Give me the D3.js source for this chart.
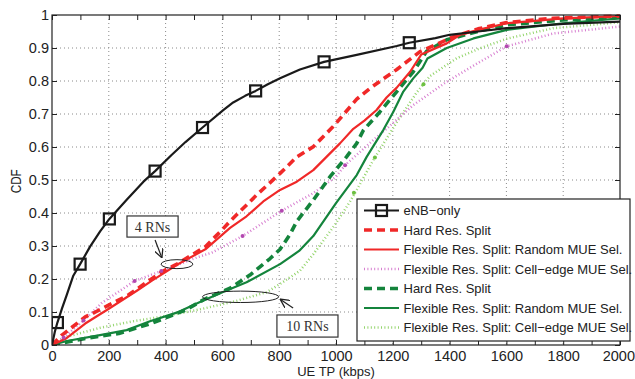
<!DOCTYPE html>
<html>
<head>
<meta charset="utf-8">
<script src="https://cdn.jsdelivr.net/npm/d3@7"></script>
<style>
  html, body { margin: 0; padding: 0; background: #fff; }
  svg { display: block; }
  text { font-family: "Liberation Sans", Arial, sans-serif; }
</style>
</head>
<body>
<svg id="chart" width="635" height="379"></svg>
<script>
// ---------------- data (UE throughput in kbps, CDF) ----------------
const xTickLabels = [0, 200, 400, 600, 800, 1000, 1200, 1400, 1600, 1800, 2000];
const yTickLabels = [0, 0.1, 0.2, 0.3, 0.4, 0.5, 0.6, 0.7, 0.8, 0.9, 1];

const enbOnly = [[0,0],[10,0.04],[19,0.068],[35,0.11],[52,0.152],[75,0.21],[99,0.245],[134,0.298],[170,0.345],[202,0.382],[263,0.44],[322,0.495],[363,0.527],[420,0.575],[470,0.615],[530,0.659],[603,0.712],[638,0.735],[680,0.755],[717,0.77],[760,0.79],[803,0.808],[873,0.835],[958,0.858],[1073,0.879],[1214,0.906],[1258,0.916],[1350,0.93],[1400,0.94],[1500,0.95],[1600,0.96],[1800,0.973],[2000,0.98]];
const enbMarkers = [[19,0.068],[99,0.245],[202,0.382],[363,0.527],[530,0.659],[717,0.77],[958,0.858],[1258,0.916]];

const hard4 = [[0,0],[35,0.03],[117,0.085],[153,0.10],[270,0.152],[387,0.222],[440,0.245],[540,0.298],[600,0.35],[627,0.375],[721,0.455],[803,0.52],[862,0.57],[920,0.601],[990,0.662],[1073,0.745],[1120,0.778],[1214,0.835],[1296,0.889],[1413,0.934],[1500,0.958],[1601,0.977],[1765,0.99],[2000,0.997]];
const flexRand4 = [[0,0],[50,0.02],[117,0.065],[200,0.11],[300,0.165],[352,0.195],[440,0.243],[540,0.29],[627,0.355],[685,0.39],[744,0.435],[803,0.47],[862,0.495],[920,0.53],[1014,0.611],[1061,0.655],[1100,0.68],[1143,0.712],[1178,0.75],[1214,0.78],[1261,0.828],[1300,0.88],[1390,0.914],[1437,0.94],[1500,0.955],[1601,0.975],[1800,0.99],[2000,0.997]];
const flexEdge4 = [[0,0],[41,0.023],[111,0.074],[176,0.128],[291,0.194],[385,0.224],[509,0.265],[563,0.28],[671,0.33],[809,0.407],[920,0.46],[1000,0.51],[1032,0.545],[1073,0.576],[1131,0.621],[1184,0.66],[1272,0.727],[1390,0.798],[1507,0.858],[1601,0.905],[1765,0.944],[2000,0.965]];
const flexEdge4Dots = [[41,0.023],[111,0.074],[291,0.194],[385,0.224],[671,0.33],[809,0.407],[1032,0.545],[1601,0.905]];

const hard10 = [[0,0],[117,0.02],[235,0.035],[352,0.066],[470,0.106],[540,0.14],[627,0.172],[697,0.212],[768,0.262],[803,0.29],[838,0.335],[862,0.375],[920,0.439],[979,0.51],[1037,0.57],[1073,0.611],[1096,0.65],[1155,0.707],[1214,0.768],[1272,0.828],[1319,0.89],[1390,0.925],[1507,0.952],[1600,0.97],[1800,0.985],[2000,0.993]];
const flexRand10 = [[0,0],[52,0.012],[169,0.03],[263,0.045],[345,0.072],[439,0.098],[521,0.13],[600,0.16],[685,0.19],[803,0.245],[870,0.285],[920,0.33],[1000,0.43],[1073,0.515],[1108,0.57],[1167,0.652],[1202,0.707],[1237,0.768],[1272,0.808],[1305,0.84],[1322,0.868],[1390,0.9],[1484,0.929],[1601,0.955],[1800,0.975],[2000,0.99]];
const flexEdge10 = [[0,0],[52,0.025],[169,0.052],[286,0.072],[404,0.088],[521,0.108],[638,0.131],[756,0.16],[803,0.185],[873,0.225],[920,0.275],[1000,0.369],[1049,0.434],[1073,0.47],[1131,0.56],[1178,0.625],[1214,0.675],[1284,0.765],[1331,0.815],[1425,0.869],[1507,0.899],[1601,0.928],[1765,0.96],[2000,0.978]];
const flexEdge10Dots = [[1063,0.461],[1137,0.568],[1308,0.79]];

const legendLabels = ["eNB\u2212only", "Hard Res. Split", "Flexible Res. Split: Random MUE Sel.", "Flexible Res. Split: Cell\u2212edge MUE Sel.", "Hard Res. Split", "Flexible Res. Split: Random MUE Sel.", "Flexible Res. Split: Cell\u2212edge MUE Sel."];

// annotation anchors in data units
const note4 = { label: "4 RNs", box: [264, 0.391, 444, 0.327], arrow: [363, 0.318, 387, 0.264], ellipse: [440, 0.245, 56, 0.0136] };
const note10 = { label: "10 RNs", box: [792, 0.091, 1007, 0.024], arrow: [849, 0.112, 803, 0.139], ellipse: [664, 0.146, 134, 0.0173] };

// ---------------- drawing ----------------
const svg = d3.select("#chart");
const L = 52, R = 620, T = 15, B = 345;
const x = d3.scaleLinear().domain([0, 2000]).range([L, R]);
const y = d3.scaleLinear().domain([0, 1]).range([B, T]);

const defs = svg.append("defs");
defs.append("clipPath").attr("id", "plotclip").append("rect")
  .attr("x", L).attr("y", T - 2).attr("width", R - L).attr("height", B - T + 2);
defs.append("marker").attr("id", "arrowhead").attr("viewBox", "0 0 10 10")
  .attr("refX", 10).attr("refY", 5).attr("markerWidth", 9).attr("markerHeight", 9)
  .attr("markerUnits", "userSpaceOnUse").attr("orient", "auto")
  .append("path").attr("d", "M0,0 L10,5 L0,10").attr("fill", "none").attr("stroke", "#222").attr("stroke-width", 1.4);

// grid
const grid = svg.append("g");
grid.selectAll(".gx").data(xTickLabels.slice(1, -1)).enter().append("line")
  .attr("x1", d => x(d)).attr("x2", d => x(d)).attr("y1", T).attr("y2", B)
  .attr("stroke", "#8a8a8a").attr("stroke-width", 1).attr("stroke-dasharray", "1,3");
grid.selectAll(".gy").data(yTickLabels.slice(1, -1)).enter().append("line")
  .attr("y1", d => y(d)).attr("y2", d => y(d)).attr("x1", L).attr("x2", R)
  .attr("stroke", "#8a8a8a").attr("stroke-width", 1).attr("stroke-dasharray", "1,3");

const line = d3.line().x(d => x(d[0])).y(d => y(d[1]));

const series = [
  { data: flexEdge10, color: "#94d46c", width: 2.5, dash: "1,2.4" },
  { data: flexEdge4, color: "#d77fd0", width: 2.5, dash: "1,2.4" },
  { data: flexRand10, color: "#14843c", width: 2.2, dash: null },
  { data: hard10, color: "#14843c", width: 3.6, dash: "8,5" },
  { data: flexRand4, color: "#f02828", width: 2.2, dash: null },
  { data: hard4, color: "#f02828", width: 3.6, dash: "8,5" },
  { data: enbOnly, color: "#1a1a1a", width: 2.2, dash: null }
];

const plot = svg.append("g").attr("clip-path", "url(#plotclip)");
series.forEach(s => {
  plot.append("path").datum(s.data)
    .attr("d", line).attr("fill", "none")
    .attr("stroke", s.color).attr("stroke-width", s.width)
    .attr("stroke-dasharray", s.dash).attr("stroke-linejoin", "round");
});
plot.selectAll(".mdot").data(flexEdge4Dots).enter().append("circle")
  .attr("cx", d => x(d[0])).attr("cy", d => y(d[1])).attr("r", 2).attr("fill", "#b348b0");
plot.selectAll(".gdot").data(flexEdge10Dots).enter().append("circle")
  .attr("cx", d => x(d[0])).attr("cy", d => y(d[1])).attr("r", 2).attr("fill", "#6cc040");
plot.selectAll(".sq").data(enbMarkers).enter().append("rect")
  .attr("x", d => x(d[0]) - 5.5).attr("y", d => y(d[1]) - 5.5)
  .attr("width", 11).attr("height", 11)
  .attr("fill", "none").attr("stroke", "#1a1a1a").attr("stroke-width", 2.2);

// annotations
[note4, note10].forEach(n => {
  const [ex, ey, erx, ery] = n.ellipse;
  svg.append("ellipse").attr("cx", x(ex)).attr("cy", y(ey))
    .attr("rx", x(ex + erx) - x(ex)).attr("ry", y(0) - y(ery))
    .attr("fill", "none").attr("stroke", "#222").attr("stroke-width", 1);
  const [ax1, ay1, ax2, ay2] = n.arrow;
  svg.append("line").attr("x1", x(ax1)).attr("y1", y(ay1)).attr("x2", x(ax2)).attr("y2", y(ay2))
    .attr("stroke", "#222").attr("stroke-width", 1.2).attr("marker-end", "url(#arrowhead)");
  const [bx1, by1, bx2, by2] = n.box;
  svg.append("rect").attr("x", x(bx1)).attr("y", y(by1))
    .attr("width", x(bx2) - x(bx1)).attr("height", y(by2) - y(by1))
    .attr("fill", "#fff").attr("stroke", "#333").attr("stroke-width", 1.2);
  svg.append("text").attr("x", (x(bx1) + x(bx2)) / 2).attr("y", (y(by1) + y(by2)) / 2)
    .attr("dy", "0.36em").attr("text-anchor", "middle")
    .style("font-family", "'Liberation Serif', 'Times New Roman', serif")
    .style("font-size", "14px").attr("fill", "#333").text(n.label);
});

// axes
const fs = "14.5px";
svg.append("g").attr("transform", `translate(0,${B})`)
  .call(d3.axisBottom(x).tickValues(xTickLabels).tickSizeInner(-5).tickSizeOuter(0).tickPadding(6).tickFormat(d3.format("d")))
  .selectAll(".tick text").attr("text-anchor", d => d === 2000 ? "end" : "middle").attr("dx", d => d === 2000 ? 14.5 : 0);
const xMinor = d3.range(100, 2000, 200);
svg.append("g").attr("transform", `translate(0,${B})`)
  .call(d3.axisBottom(x).tickValues(xMinor).tickSizeInner(-5).tickSizeOuter(0).tickFormat(""));
svg.append("g").attr("transform", `translate(0,${T})`)
  .call(d3.axisTop(x).tickValues(xTickLabels.concat(xMinor)).tickSizeInner(-5).tickSizeOuter(0).tickFormat(""));
svg.append("g").attr("transform", `translate(${L},0)`)
  .call(d3.axisLeft(y).tickValues(yTickLabels).tickSizeInner(-5).tickSizeOuter(0).tickPadding(3).tickFormat(d => d3.format("")(d)));
svg.append("g").attr("transform", `translate(${R},0)`)
  .call(d3.axisRight(y).tickValues(yTickLabels).tickSizeInner(-5).tickSizeOuter(0).tickFormat(""));
svg.selectAll(".domain").remove();
svg.selectAll(".tick line").attr("stroke", "#222");
svg.selectAll(".tick text").style("font-size", fs).style("font-family", "'Liberation Sans', Arial, sans-serif").attr("fill", "#222");

svg.append("rect").attr("x", L).attr("y", T).attr("width", R - L).attr("height", B - T)
  .attr("fill", "none").attr("stroke", "#222").attr("stroke-width", 1.2);

// axis labels
svg.append("text").attr("x", (L + R) / 2).attr("y", 376.3).attr("text-anchor", "middle")
  .style("font-size", "13px").attr("fill", "#222").text("UE TP (kbps)");
svg.append("text").attr("transform", "translate(20.5,181.3) rotate(-90)").attr("text-anchor", "middle")
  .style("font-size", "14px").attr("textLength", 24).attr("lengthAdjust", "spacingAndGlyphs")
  .attr("fill", "#222").text("CDF");

// legend
const lg = svg.append("g");
lg.append("rect").attr("x", 357).attr("y", 199).attr("width", 273).attr("height", 142)
  .attr("fill", "#fff").attr("stroke", "#222").attr("stroke-width", 1.2);
const legendStyles = [series[6], series[5], series[4], series[1], series[3], series[2], series[0]];
legendLabels.forEach((lab, i) => {
  const yy = 210.5 + i * 19.5;
  const s = legendStyles[i];
  lg.append("line").attr("x1", 364).attr("x2", 399).attr("y1", yy).attr("y2", yy)
    .attr("stroke", s.color).attr("stroke-width", s.width).attr("stroke-dasharray", s.dash);
  if (i === 0) {
    lg.append("rect").attr("x", 381.5 - 5.5).attr("y", yy - 5.5).attr("width", 11).attr("height", 11)
      .attr("fill", "none").attr("stroke", "#1a1a1a").attr("stroke-width", 2.2);
  }
  lg.append("text").attr("x", 403.5).attr("y", yy).attr("dy", "0.36em")
    .style("font-size", "13px").attr("fill", "#222").text(lab);
});
</script>
</body>
</html>
